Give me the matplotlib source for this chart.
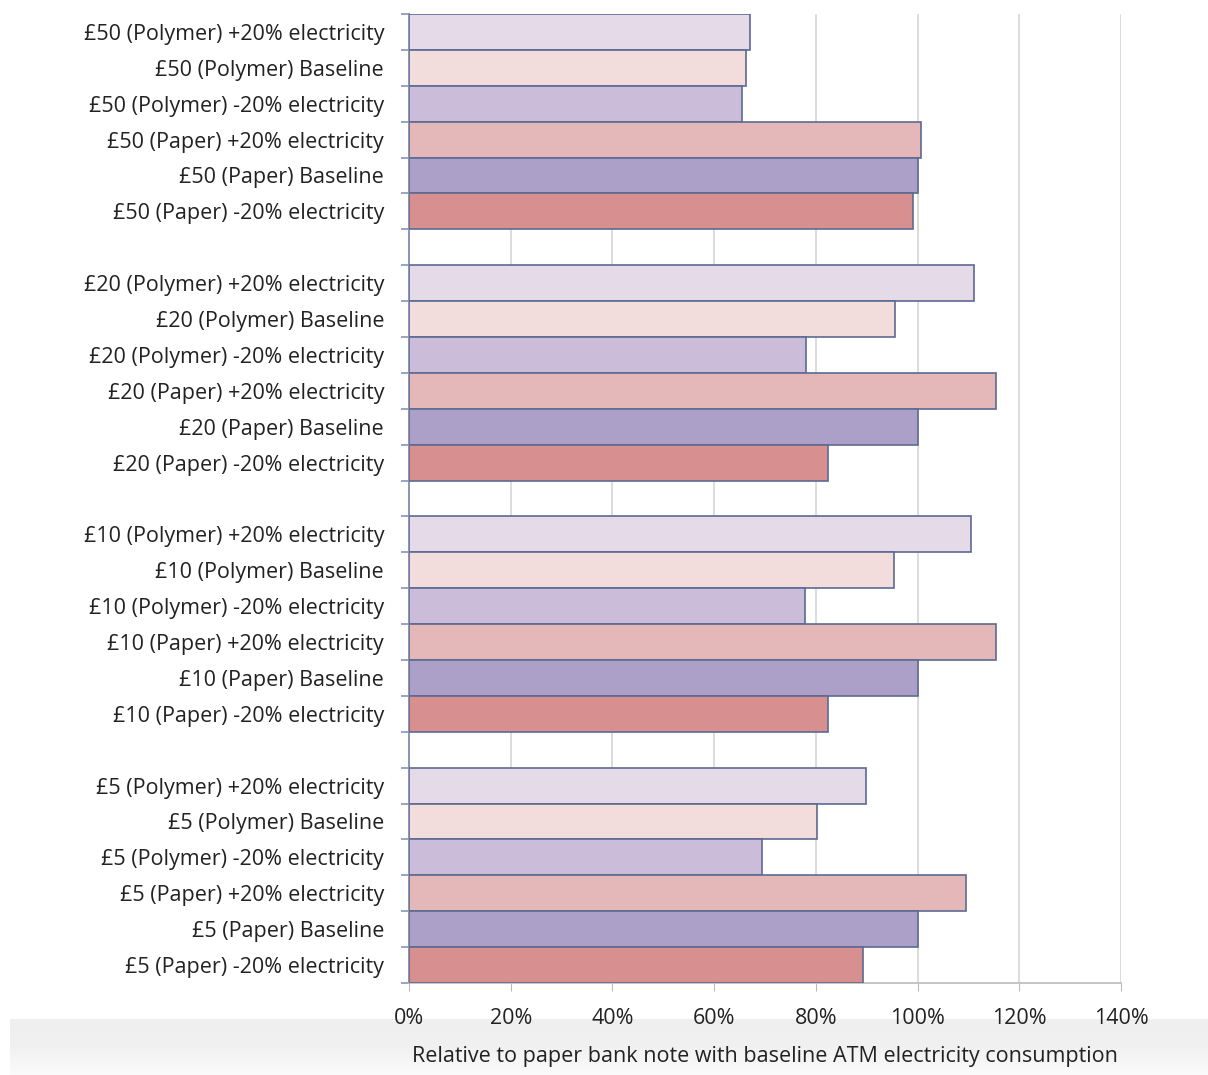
import numpy as np
import matplotlib.pyplot as plt
from matplotlib.colors import LinearSegmentedColormap
from matplotlib.ticker import FuncFormatter

plt.rcParams['font.family'] = ['Open Sans', 'DejaVu Sans']

notes = ["£50", "£20", "£10", "£5"]
variants = ["(Polymer) +20% electricity", "(Polymer) Baseline", "(Polymer) -20% electricity",
            "(Paper) +20% electricity", "(Paper) Baseline", "(Paper) -20% electricity"]
values = {
    "£50": [67.0, 66.2, 65.4, 100.7, 100.0, 99.1],
    "£20": [111.1, 95.6, 78.1, 115.5, 100.0, 82.4],
    "£10": [110.5, 95.4, 77.9, 115.5, 100.0, 82.4],
    "£5":  [89.9, 80.2, 69.4, 109.5, 100.0, 89.3],
}
colors = ["#E4DAE8", "#F2DCDC", "#CBBDD9", "#E4B8B9", "#ADA0C8", "#D88F8F"]
xticks = [0, 20, 40, 60, 80, 100, 120, 140]
xlabel = "Relative to paper bank note with baseline ATM electricity consumption"

fig = plt.figure(figsize=(12.08, 10.75), dpi=100)

# soft grey band behind the axis title
bg = fig.add_axes([0.008, 0.0, 0.992, 0.052], zorder=-5)
grad = np.linspace(0, 1, 60).reshape(-1, 1)
bg.imshow(grad, aspect='auto',
          cmap=LinearSegmentedColormap.from_list("g", ["#EFEFEF", "#F1F1F1", "#FBFBFB"]),
          extent=[0, 1, 0, 1])
bg.axis('off')

ax = fig.add_axes([0.3386, 0.0856, 0.5894, 0.9014])
ax.patch.set_alpha(0)

labels, ys = [], []
slot = 0
for g, note in enumerate(notes):
    for j, var in enumerate(variants):
        y = slot + 0.5
        ax.barh(y, values[note][j], height=1.0, color=colors[j],
                edgecolor="#5C6A92", linewidth=1.2, zorder=3)
        labels.append(f"{note} {var}")
        ys.append(y)
        slot += 1
    if g < len(notes) - 1:
        slot += 1

ax.set_ylim(slot, 0)
ax.set_xlim(0, 140)
ax.set_yticks(ys)
ax.set_yticklabels(labels, fontsize=15.5, color="#222222")
ax.set_yticks(np.arange(0, slot + 1), minor=True)
ax.tick_params(axis='y', which='major', length=0, pad=18)
ax.tick_params(axis='y', which='minor', length=6, color="#8A94B0", width=1.2)
ax.set_xticks(xticks)
ax.xaxis.set_major_formatter(FuncFormatter(lambda v, p: f"{v:.0f}%"))
ax.tick_params(axis='x', length=6, color="#BBBBBB", labelsize=15.5, labelcolor="#222222", pad=12)
ax.grid(axis='x', color="#D6D6D6", linewidth=1.2, zorder=0)
for s in ["top", "right"]:
    ax.spines[s].set_visible(False)
ax.spines["left"].set_color("#8A94B0")
ax.spines["left"].set_linewidth(1.4)
ax.spines["bottom"].set_color("#BBBBBB")
ax.spines["bottom"].set_linewidth(1.2)
ax.set_xlabel(xlabel, fontsize=15.5, color="#222222", labelpad=12)

fig.savefig("out.png", dpi=100, facecolor="white")
